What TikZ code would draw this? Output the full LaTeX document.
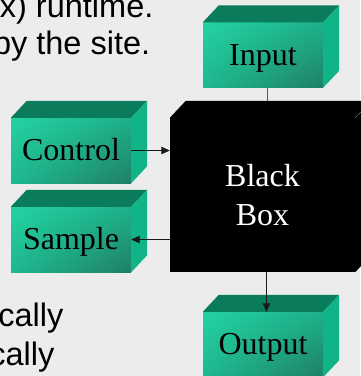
\documentclass[tikz,border=0pt]{standalone}
\usepackage{fontspec}
\setmainfont{Liberation Serif}
\newfontfamily\arialf{Liberation Sans}
\usetikzlibrary{arrows.meta,shadings}
\definecolor{bgc}{HTML}{ECECEC}
\definecolor{gtopc}{HTML}{0A7B5B}
\definecolor{gsidec}{HTML}{10B488}
\definecolor{gul}{HTML}{24D2A2}
\definecolor{gur}{HTML}{1DB08A}
\definecolor{gll}{HTML}{1EB890}
\definecolor{glr}{HTML}{1F7F66}
\tikzset{
  gface/.style={minimum width=120pt, minimum height=65pt, inner sep=0pt,
    upper left=gul, upper right=gur, lower left=gll, lower right=glr,
    font=\fontsize{32}{36}\selectfont, text height=20pt, text depth=0pt},
  bface/.style={minimum width=185pt, minimum height=154pt, inner sep=0pt,
    fill=black, text=white, align=center, font=\fontsize{32}{39}\selectfont},
  gtop/.style={fill=gtopc},
  gside/.style={fill=gsidec},
  atext/.style={inner sep=0pt, font=\arialf\fontsize{32.5}{38}\selectfont},
  conn/.style={draw=black!65, line width=0.9pt},
  arr/.style={draw=black!90, line width=0.9pt, -{Triangle[length=8.5pt,width=7.5pt]}}
}
\newcommand\boxfaces[2]{%
  \fill[#2top] (#1.north west) -- ++(16,-17) -- ([shift={(16,-17)}]#1.north east) -- (#1.north east) -- cycle;
  \fill[#2side] (#1.north east) -- ++(16,-17) -- ([shift={(16,-17)}]#1.south east) -- (#1.south east) -- cycle;
}
\tikzset{btop/.style={fill=black}, bside/.style={fill=black}}
\begin{document}
\begin{tikzpicture}[x=1pt,y=-1pt]
\useasboundingbox (0,0) rectangle (360,376);
\fill[bgc] (0,0) rectangle (360,376);
% texts
\node[atext, anchor=base east] (t1) at (153.6,17.3) {ex) runtime.};
\node[atext, anchor=base east] (t2) at (150.4,54) {by the site.};
\node[atext, anchor=base east] (t3) at (63.5,326) {cally};
\node[atext, anchor=base east] (t4) at (54.5,365) {cally};
% boxes
\node[gface] (input) at (263,55) {Input};
\boxfaces{input}{g}
\node[gface] (control) at (71,150.5) {Control};
\boxfaces{control}{g}
\node[gface] (sample) at (71,239.5) {Sample};
\boxfaces{sample}{g}
\node[gface] (output) at (263,344.5) {Output};
\boxfaces{output}{g}
\node[bface] (black) at (262.5,195) {Black\\Box};
\boxfaces{black}{b}
\draw[black!60, line width=0.5pt] (black.north east) -- ++(16,-17);
\coordinate (btopc) at ([yshift=17pt]black.north);
% connectors
\draw[conn] ([xshift=4pt]input.south) -- ([xshift=4pt]input.south |- btopc);
\draw[arr] ([xshift=4pt]black.south) -- ([xshift=4pt]black.south |- output.north);
\draw[arr] (control.east) -- (control.east -| black.west);
\draw[arr] (sample.east -| black.west) -- (sample.east);
\end{tikzpicture}
\end{document}
